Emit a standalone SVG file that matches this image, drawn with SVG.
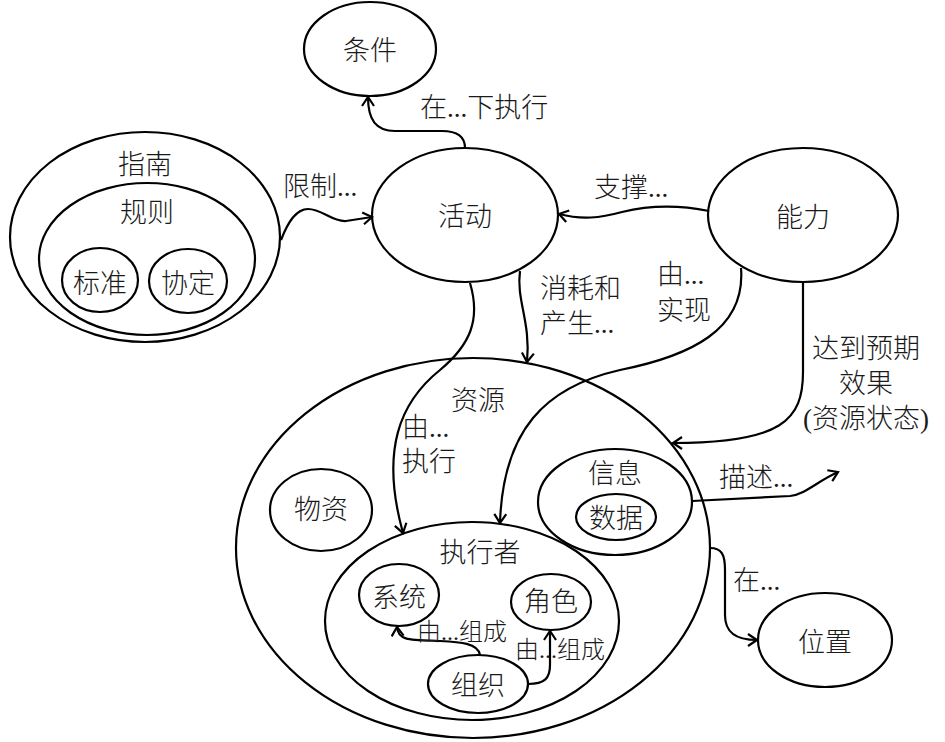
<svg xmlns="http://www.w3.org/2000/svg" width="945" height="742" viewBox="0 0 945 742">
<defs>
<style>
.n{fill:#fff;stroke:#000;stroke-width:2.2}
.t{font-family:"Liberation Serif","Noto Sans CJK SC",serif;font-size:27px;font-weight:300;fill:#1a1a1a;text-anchor:middle}
.l{font-family:"Liberation Serif","Noto Sans CJK SC",serif;font-size:27px;font-weight:300;fill:#1a1a1a}
.s{font-family:"Liberation Serif","Noto Sans CJK SC",serif;font-size:24px;font-weight:300;fill:#1a1a1a}
.c{fill:none;stroke:#000;stroke-width:2.2;marker-end:url(#a)}
</style>
<marker id="a" markerWidth="14" markerHeight="14" refX="11" refY="7" orient="auto" markerUnits="userSpaceOnUse">
<path d="M2,1 L11,7 L2,13" fill="none" stroke="#000" stroke-width="2.2"/>
</marker>
</defs>
<rect width="945" height="742" fill="#fff"/>
<g id="guide">
<ellipse class="n" cx="145" cy="237" rx="135" ry="105"/>
<text class="t" x="145" y="174">指南</text>
</g>
<g id="rules">
<ellipse class="n" cx="147" cy="259" rx="108" ry="76"/>
<text class="t" x="147" y="222">规则</text>
</g>
<g id="standard">
<ellipse class="n" cx="100" cy="280" rx="38" ry="32"/>
<text class="t" x="100" y="293">标准</text>
</g>
<g id="protocol">
<ellipse class="n" cx="188" cy="281" rx="39" ry="32"/>
<text class="t" x="188" y="293">协定</text>
</g>
<g id="condition">
<ellipse class="n" cx="370" cy="49" rx="66" ry="47"/>
<text class="t" x="370" y="60">条件</text>
</g>
<g id="activity">
<ellipse class="n" cx="465" cy="215" rx="93" ry="67"/>
<text class="t" x="465" y="226">活动</text>
</g>
<g id="capability">
<ellipse class="n" cx="803" cy="215" rx="95" ry="67"/>
<text class="t" x="803" y="227">能力</text>
</g>
<g id="resource">
<ellipse class="n" cx="473" cy="548" rx="237" ry="190"/>
<text class="t" x="478" y="410">资源</text>
</g>
<g id="materiel">
<ellipse class="n" cx="321" cy="510" rx="51" ry="41"/>
<text class="t" x="321" y="519">物资</text>
</g>
<g id="performer">
<ellipse class="n" cx="472" cy="621" rx="147" ry="99"/>
<text class="t" x="480" y="562">执行者</text>
</g>
<g id="system">
<ellipse class="n" cx="399" cy="595" rx="40" ry="31"/>
<text class="t" x="399" y="607">系统</text>
</g>
<g id="role">
<ellipse class="n" cx="551" cy="602" rx="40" ry="28"/>
<text class="t" x="551" y="611">角色</text>
</g>
<g id="organization">
<ellipse class="n" cx="478" cy="684" rx="50" ry="29"/>
<text class="t" x="478" y="695">组织</text>
</g>
<g id="information">
<ellipse class="n" cx="615" cy="502" rx="77" ry="53"/>
<text class="t" x="615" y="483">信息</text>
</g>
<g id="data">
<ellipse class="n" cx="616" cy="517" rx="40" ry="23"/>
<text class="t" x="616" y="528">数据</text>
</g>
<g id="location">
<ellipse class="n" cx="825" cy="640" rx="67" ry="47"/>
<text class="t" x="825" y="652">位置</text>
</g>
<g id="connectors">
<path class="c" d="M465,148 C465,136 457,131 442,131 L395,131 C376,131 368,120 368,97"/>
<path class="c" d="M281,240 C288,222 296,209 308,209 C322,209 332,222 346,221 L372,217"/>
<path class="c" d="M709,211 C680,205 650,205 622,212 C600,218 582,220 559,214"/>
<path class="c" d="M520,271 C516,300 531,322 527,362"/>
<path class="c" d="M741,268 C746,330 690,356 620,370 C545,387 503,430 500,523"/>
<path class="c" d="M470,283 C481,320 470,345 440,370 C400,402 380,450 403,533"/>
<path class="c" d="M803,282 L803,372 C803,420 782,443 673,443"/>
<path class="c" d="M692,501 L790,496 C806,494 816,482 838,472"/>
<path class="c" d="M710,548 C722,548 725,555 725,570 L725,615 C725,632 735,640 757,640"/>
<path class="c" d="M480,655 C478,643 460,642 440,641 C410,640 398,641 397,627"/>
<path class="c" d="M528,684 C545,684 550,678 550,665 L550,631"/>
</g>
<g id="labels">
<text class="l" x="420" y="117">在...下执行</text>
<text class="l" x="283" y="196">限制...</text>
<text class="l" x="594" y="197">支撑...</text>
<text class="l" x="540" y="298">消耗和</text>
<text class="l" x="540" y="333">产生...</text>
<text class="l" x="657" y="284">由...</text>
<text class="l" x="657" y="320">实现</text>
<text class="t" x="866" y="358">达到预期</text>
<text class="t" x="866" y="393">效果</text>
<text class="t" x="866" y="428">(资源状态)</text>
<text class="l" x="402" y="437">由...</text>
<text class="l" x="402" y="471">执行</text>
<text class="s" x="417" y="640">由...组成</text>
<text class="s" x="515" y="658">由...组成</text>
<text class="l" x="719" y="487">描述...</text>
<text class="l" x="733" y="590">在...</text>
</g>
</svg>
